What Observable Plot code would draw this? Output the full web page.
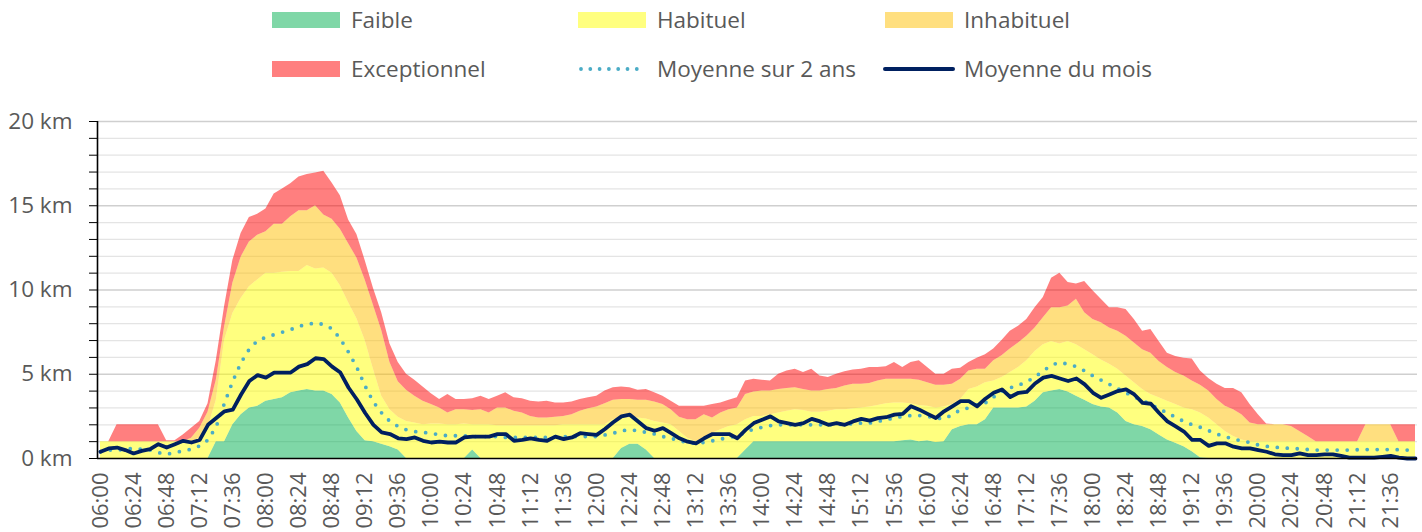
<!DOCTYPE html>
<html>
<head>
<meta charset="utf-8">
<script src="https://cdn.jsdelivr.net/npm/d3@7"></script>
<script src="https://cdn.jsdelivr.net/npm/@observablehq/plot@0.6"></script>
<style>
  body { margin: 0; background: #fff; font-family: "Open Sans", sans-serif; }
  #wrap { position: relative; width: 1422px; height: 532px; overflow: hidden; }
  #chart, #legend { position: absolute; left: 0; top: 0; }
</style>
</head>
<body>
<div id="wrap"><div id="chart"></div><svg id="legend" width="1422" height="95"></svg></div>
<script>
// Time categories: one value every 6 minutes from 06:00 to 21:54
const startMinutes = 360;
const stepMinutes = 6;

// Upper limit of each band (km)
const faible = [
  0,0,0,0,0,0,0,0,0,0,
  0,0,0,0,1.0,1.0,2.0,2.6,3.0,3.1,
  3.4,3.5,3.6,3.9,4.0,4.1,4.0,4.0,3.8,3.3,
  2.4,1.6,1.05,1.0,0.85,0.7,0.5,0,0,0,
  0,0,0,0,0,0.5,0,0,0,0,
  0,0,0,0,0,0,0,0,0,0,
  0,0,0,0.6,0.85,0.85,0.5,0,0,0,
  0,0,0,0,0,0,0,0,0.5,1.0,
  1,1,1,1,1,1,1,1,1,1,
  1,1,1,1,1,1,1,1.05,1.1,1.0,
  1.05,0.95,1.0,1.7,1.9,2.0,2.0,2.3,3.0,3.0,
  3.0,3.0,3.05,3.4,3.9,4.0,4.1,3.95,3.7,3.45,
  3.2,3.05,3.0,2.7,2.2,2.0,1.9,1.7,1.4,1.1,
  0.9,0.7,0.4,0.05,0,0,0,0,0,0,
  0,0,0,0,0,0,0,0,0,0,
  0,0,0,0,0,0,0,0,0,0
];
const habituel = [
  1,1,1,1,1,1,1,1,1,1,
  1,1,1.2,1.8,3.45,7.0,8.6,9.5,10.2,10.6,
  11.0,11.0,11.05,11.1,11.1,11.45,11.25,11.3,11.0,10.25,
  9.25,8.3,7.0,5.3,3.7,2.9,2.45,2.2,2.1,2.0,
  2.05,2.05,2.0,2.0,2.05,2.0,2.0,2.0,1.95,1.95,
  1.95,1.95,1.95,1.95,1.95,1.95,2.0,2.0,2.0,2.0,
  2.0,2.0,2.3,2.4,2.4,2.4,2.35,2.2,2.1,2.0,
  1.6,1.2,1.0,1.2,1.5,1.7,1.9,2.0,2.3,2.5,
  2.5,2.6,2.7,2.8,2.9,2.85,2.75,2.75,2.8,2.9,
  2.9,2.95,3.0,3.05,3.15,3.25,3.3,3.3,3.25,3.15,
  3.1,3.0,3.05,3.2,3.5,4.1,4.25,4.5,4.6,4.8,
  5.1,5.4,5.8,6.35,6.75,6.95,6.8,6.95,6.75,6.45,
  6.15,5.85,5.6,5.3,4.9,4.5,4.1,3.8,3.6,3.4,
  3.2,3.0,2.9,2.7,2.4,2.0,1.6,1.3,1.1,1.0,
  1,1,1,1,1,1,1,1,1,1,
  1,1,1,1,1,1,1,1,1,1
];
const inhabituel = [
  1,1,1,1,1,1,1,1,1,1,
  1.0,1.2,1.8,2.75,4.65,7.8,10.4,11.95,12.85,13.25,
  13.45,13.9,13.9,14.35,14.7,14.7,15.0,14.45,14.2,13.6,
  12.75,11.9,10.6,9.1,7.6,5.7,4.55,4.05,3.7,3.4,
  3.2,3.0,2.7,2.9,2.9,2.85,2.9,2.7,3.0,3.0,
  2.8,2.7,2.5,2.4,2.4,2.45,2.5,2.6,2.8,2.95,
  3.05,3.25,3.45,3.5,3.5,3.45,3.45,3.35,3.2,2.9,
  2.45,2.3,2.3,2.6,2.4,2.7,2.9,3.0,3.8,3.95,
  4.0,4.0,4.1,4.15,4.2,4.1,4.0,4.0,4.1,4.15,
  4.3,4.4,4.4,4.45,4.6,4.7,4.7,4.7,4.7,4.65,
  4.5,4.35,4.35,4.4,4.7,5.2,5.3,5.3,5.8,6.1,
  6.5,6.85,7.25,7.75,8.35,8.95,8.95,9.05,9.45,8.65,
  8.25,8.05,7.75,7.55,7.25,6.85,6.45,6.25,5.75,5.4,
  5.1,4.9,4.6,4.35,4.0,3.5,3.1,2.9,2.6,2.1,
  2.0,2.0,2.0,2.0,1.9,1.6,1.3,1.0,1.0,1.0,
  1.0,1.0,1.0,2.0,2.0,2.0,2.0,1.0,1.0,1.0
];
const exceptionnel = [
  1.0,1.0,2.0,2.0,2.0,2.0,2.0,2.0,1.05,1.05,
  1.4,1.8,2.2,3.25,5.8,9.0,11.75,13.35,14.3,14.5,
  14.8,15.7,16.0,16.3,16.7,16.85,16.95,17.05,16.35,15.6,
  14.15,13.3,11.75,10.1,8.65,6.8,5.7,5.0,4.65,4.25,
  3.85,3.5,3.8,3.5,3.5,3.55,3.7,3.5,3.7,3.9,
  3.6,3.55,3.4,3.35,3.4,3.3,3.3,3.35,3.5,3.6,
  3.7,4.0,4.2,4.25,4.2,4.05,4.1,3.9,3.7,3.4,
  3.1,3.1,3.1,3.1,3.2,3.3,3.45,3.6,4.6,4.7,
  4.65,4.6,5.0,5.2,5.3,5.1,5.3,4.9,4.8,5.0,
  5.15,5.25,5.3,5.4,5.4,5.45,5.7,5.4,5.7,5.8,
  5.4,5.0,5.0,5.3,5.35,5.7,5.95,6.15,6.5,7.0,
  7.55,7.85,8.25,8.95,9.55,10.7,11.0,10.45,10.35,10.5,
  9.95,9.45,8.95,8.95,8.85,8.25,7.55,7.65,6.95,6.25,
  6.05,5.95,5.9,5.2,4.75,4.4,4.15,4.15,3.9,3.2,
  2.6,2.05,2,2,2,2,2,2,2,2,
  2,2,2,2,2,2,2,2,2,2
];
const moyenne2ans = [
  0.4,0.5,0.5,0.55,0.6,0.55,0.5,0.35,0.25,0.35,
  0.45,0.55,0.75,1.1,1.9,3.3,4.6,5.7,6.5,7.0,
  7.2,7.35,7.5,7.65,7.85,7.95,8.05,7.95,7.7,7.1,
  6.3,5.4,4.3,3.35,2.7,2.2,1.9,1.7,1.6,1.55,
  1.5,1.4,1.35,1.35,1.35,1.3,1.3,1.3,1.3,1.25,
  1.25,1.25,1.25,1.25,1.25,1.3,1.3,1.3,1.3,1.3,
  1.3,1.4,1.5,1.65,1.7,1.65,1.55,1.45,1.3,1.2,
  1.05,0.95,0.9,0.95,1.05,1.15,1.25,1.35,1.55,1.75,
  1.85,1.95,2.0,2.0,2.0,2.0,2.0,2.0,2.0,2.0,
  2.05,2.05,2.1,2.1,2.2,2.3,2.4,2.5,2.55,2.55,
  2.5,2.4,2.35,2.6,2.9,3.0,3.2,3.3,3.65,4.0,
  4.2,4.35,4.55,4.85,5.2,5.55,5.7,5.6,5.45,5.2,
  4.9,4.65,4.4,4.15,3.9,3.65,3.45,3.2,2.95,2.7,
  2.45,2.2,2.0,1.85,1.65,1.45,1.3,1.15,1.05,0.95,
  0.8,0.72,0.67,0.63,0.6,0.57,0.53,0.5,0.5,0.5,
  0.5,0.5,0.52,0.53,0.53,0.53,0.53,0.52,0.5,0.45
];
const moyenneMois = [
  0.4,0.6,0.65,0.5,0.3,0.45,0.55,0.85,0.65,0.85,
  1.05,0.95,1.1,2.0,2.4,2.8,2.9,3.8,4.6,4.95,
  4.8,5.1,5.1,5.1,5.45,5.6,5.95,5.9,5.45,5.1,
  4.2,3.5,2.7,2.0,1.55,1.45,1.2,1.15,1.25,1.05,
  0.95,1.0,0.95,0.95,1.25,1.3,1.3,1.3,1.45,1.45,
  1.05,1.1,1.2,1.1,1.05,1.3,1.15,1.25,1.5,1.45,
  1.4,1.75,2.15,2.5,2.6,2.2,1.8,1.65,1.8,1.5,
  1.2,1.0,0.9,1.2,1.45,1.45,1.45,1.2,1.7,2.1,
  2.3,2.5,2.2,2.1,2.0,2.1,2.35,2.2,2.0,2.1,
  2.0,2.2,2.35,2.25,2.4,2.45,2.6,2.65,3.1,2.9,
  2.65,2.4,2.8,3.1,3.4,3.4,3.1,3.55,3.9,4.1,
  3.65,3.9,3.95,4.45,4.8,4.9,4.75,4.6,4.75,4.4,
  3.9,3.6,3.8,4.0,4.1,3.8,3.3,3.25,2.7,2.2,
  1.9,1.6,1.1,1.1,0.75,0.9,0.9,0.7,0.6,0.6,
  0.5,0.4,0.25,0.2,0.2,0.3,0.2,0.2,0.25,0.25,
  0.15,0.05,0.05,0.05,0.05,0.1,0.15,0.05,0,0
];

const tickLabels = ["06:00","06:24","06:48","07:12","07:36","08:00","08:24","08:48","09:12","09:36",
  "10:00","10:24","10:48","11:12","11:36","12:00","12:24","12:48","13:12","13:36",
  "14:00","14:24","14:48","15:12","15:36","16:00","16:24","16:48","17:12","17:36",
  "18:00","18:24","18:48","19:12","19:36","20:00","20:24","20:48","21:12","21:36"];
const yTicks = [0, 5, 10, 15, 20];

const toMinutes = s => { const [h, m] = s.split(":").map(Number); return h * 60 + m; };

const data = faible.map((_, i) => ({
  t: startMinutes + i * stepMinutes,
  faible: faible[i], habituel: habituel[i], inhabituel: inhabituel[i],
  exceptionnel: exceptionnel[i], m2: moyenne2ans[i], mm: moyenneMois[i]
}));

const xDomain = [357.82, 1315.45];
const textColor = "#595959";
const font = "'Open Sans', sans-serif";

const chart = Plot.plot({
  width: 1422,
  height: 532,
  marginTop: 121,
  marginBottom: 74,
  marginLeft: 97,
  marginRight: 5,
  x: { domain: xDomain, label: null, axis: null },
  y: { domain: [0, 20], label: null, axis: null },
  style: { fontFamily: font, fontSize: "22.5px", color: textColor, background: "transparent" },
  marks: [
    Plot.ruleY(d3.range(1, 21).filter(d => d % 5 !== 0), { stroke: "#e4e4e4", strokeWidth: 1.2 }),
    Plot.ruleY(yTicks.filter(d => d > 0), { stroke: "#cfcfcf", strokeWidth: 1.4 }),
    Plot.areaY(data, { x: "t", y1: 0, y2: "faible", fill: "#00B050", fillOpacity: 0.5 }),
    Plot.areaY(data, { x: "t", y1: "faible", y2: "habituel", fill: "#FFFF00", fillOpacity: 0.5 }),
    Plot.areaY(data, { x: "t", y1: "habituel", y2: "inhabituel", fill: "#FFC000", fillOpacity: 0.5 }),
    Plot.areaY(data, { x: "t", y1: "inhabituel", y2: "exceptionnel", fill: "#FF0000", fillOpacity: 0.5 }),
    Plot.lineY(data, { x: "t", y: "m2", stroke: "#4BACC6", strokeWidth: 3.8, strokeDasharray: "0 10", strokeLinecap: "round" }),
    Plot.lineY(data, { x: "t", y: "mm", stroke: "#002060", strokeWidth: 3.8, strokeLinejoin: "round" }),
    Plot.ruleX([xDomain[0]], { stroke: "#000", strokeWidth: 1.6 }),
    Plot.ruleY([0], { stroke: "#000", strokeWidth: 1.6 }),
    Plot.axisY({ ticks: d3.range(0, 21), tickFormat: d => (d % 5 === 0 ? d + " km" : ""), tickSize: 8, tickPadding: 17, stroke: "#000", fill: textColor, label: null }),
    Plot.text(tickLabels, { x: d => toMinutes(d), y: () => 0, text: d => d, rotate: -90, textAnchor: "end", lineAnchor: "middle", dy: 14, fill: textColor, fontSize: 22 })
  ]
});
document.getElementById("chart").appendChild(chart);

// Legend
const legendItems = [
  { label: "Faible", kind: "rect", color: "#00B050", x: 272, y: 20 },
  { label: "Habituel", kind: "rect", color: "#FFFF00", x: 578, y: 20 },
  { label: "Inhabituel", kind: "rect", color: "#FFC000", x: 885, y: 20 },
  { label: "Exceptionnel", kind: "rect", color: "#FF0000", x: 272, y: 69 },
  { label: "Moyenne sur 2 ans", kind: "dots", color: "#4BACC6", x: 578, y: 69 },
  { label: "Moyenne du mois", kind: "line", color: "#002060", x: 885, y: 69 }
];
const lg = d3.select("#legend");
for (const it of legendItems) {
  if (it.kind === "rect") {
    lg.append("rect").attr("x", it.x).attr("y", it.y - 8).attr("width", 68).attr("height", 16)
      .attr("fill", it.color).attr("fill-opacity", 0.5);
  } else if (it.kind === "dots") {
    lg.append("line").attr("x1", it.x + 3).attr("x2", it.x + 68).attr("y1", it.y).attr("y2", it.y)
      .attr("stroke", it.color).attr("stroke-width", 3.8).attr("stroke-dasharray", "0 9.3").attr("stroke-linecap", "round");
  } else {
    lg.append("line").attr("x1", it.x).attr("x2", it.x + 68).attr("y1", it.y).attr("y2", it.y)
      .attr("stroke", it.color).attr("stroke-width", 4).attr("stroke-linecap", "round");
  }
  lg.append("text").attr("x", it.x + 79).attr("y", it.y).attr("dy", "0.36em")
    .attr("fill", textColor).style("font-family", font).style("font-size", "22.5px")
    .text(it.label);
}
</script>
</body>
</html>
